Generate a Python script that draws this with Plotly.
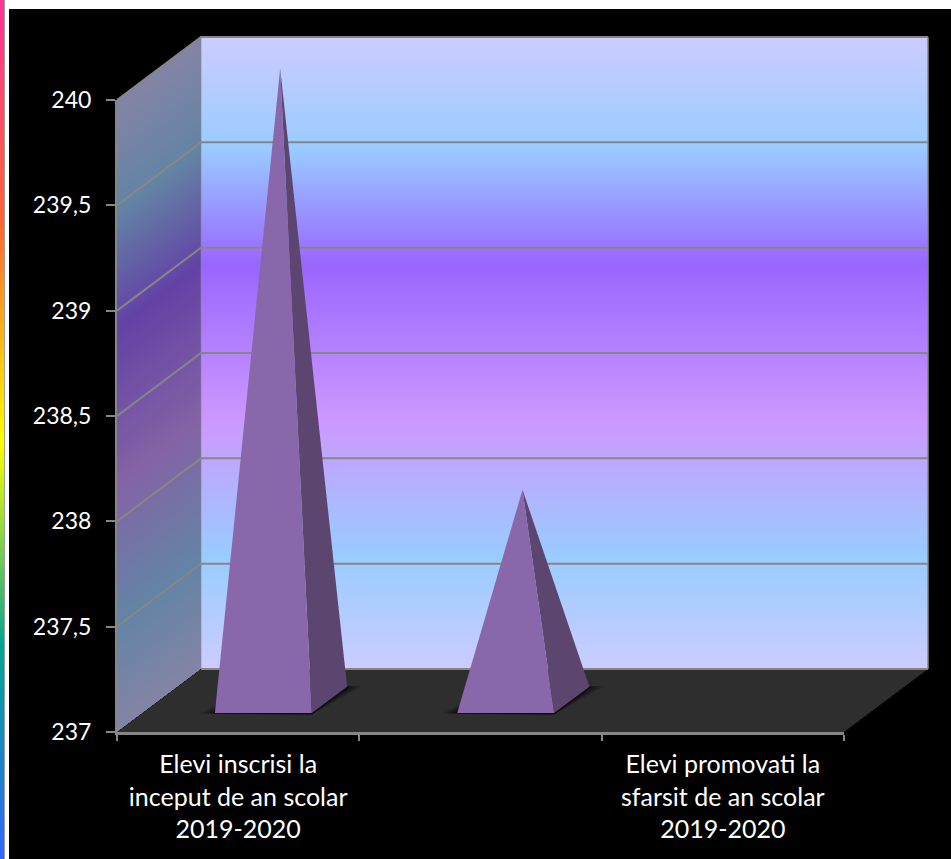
import plotly.graph_objects as go

# ---- chart data ----
categories = ["Elevi inscrisi la<br>inceput de an scolar<br>2019-2020", " ",
              "Elevi promovati la<br>sfarsit de an scolar<br>2019-2020"]
values = [240, 238, None]
y_ticks = [237, 237.5, 238, 238.5, 239, 239.5, 240]

# ---- page geometry (pixels) ----
W, H = 951, 859
X0, X1 = 117, 844        # front floor edge
Y237, Y240 = 732, 100    # front value scale
DX, DY = 84, 63          # depth shift of the back wall
k = (X1 - X0) / 3
v = (Y237 - Y240) / 3

def fx(p):
    return -0.5 + (p - X0) / k

def fy(p):
    return 237 + (Y237 - p) / v

def proj(i, val, depth, off=0.0):
    return i + off + depth * DX / k, val + depth * DY / v

wall_stops = [(0, (204, 204, 255)), (.175, (153, 204, 255)), (.36, (153, 102, 255)),
              (.61, (204, 153, 255)), (.825, (153, 204, 255)), (1, (204, 204, 255))]
rainbow_stops = [(0, "#FF3399"), (.26, "#FF6633"), (.515, "#FFFF00"), (.75, "#01A78F"), (1, "#3366FF")]

def scale(f=1.0):
    return [[s, "rgb(%d,%d,%d)" % tuple(int(c * f) for c in col)] for s, col in wall_stops]

GRID = "#868686"
fig = go.Figure()

# side rainbow strip
n = 430
fig.add_trace(go.Heatmap(x=[fx(0), fx(4)], y=[fy(H * j / n) for j in range(n + 1)],
                         z=[[(j + .5) / n] for j in range(n)], zmin=0, zmax=1,
                         colorscale=[[s, c] for s, c in rainbow_stops], showscale=False,
                         hoverinfo="skip"))

# back wall
ytop, ybot = Y240 - DY, Y237 - DY
n = ybot - ytop
fig.add_trace(go.Heatmap(x=[fx(X0 + DX), fx(X1 + DX)], y=[fy(ytop + j) for j in range(n + 1)],
                         z=[[(j + .5) / n] for j in range(n)], zmin=0, zmax=1,
                         colorscale=scale(), showscale=False, hoverinfo="skip"))

# left wall
xs = list(range(X0, X0 + DX + 1))
ys = list(range(ytop, Y237 + 1))
z = []
for py in ys[:-1]:
    row = []
    for px in xs[:-1]:
        t = (px + .5 - X0) / DX
        f = (py + .5 - (Y240 - DY * t)) / (Y237 - Y240)
        row.append(f if 0 <= f <= 1 else None)
    z.append(row)
fig.add_trace(go.Heatmap(x=[fx(p) for p in xs], y=[fy(p) for p in ys], z=z, zmin=0, zmax=1,
                         colorscale=scale(.65), showscale=False, hoverinfo="skip", hoverongaps=False))

def poly(pts, color):
    fig.add_trace(go.Scatter(x=[p[0] for p in pts] + [pts[0][0]], y=[p[1] for p in pts] + [pts[0][1]],
                             mode="lines", line=dict(width=0, color=color), fill="toself",
                             fillcolor=color, hoverinfo="skip", showlegend=False))

def line(pts, width, color=GRID):
    fig.add_trace(go.Scatter(x=[p[0] for p in pts], y=[p[1] for p in pts], mode="lines",
                             line=dict(width=width, color=color), hoverinfo="skip", showlegend=False))

# floor
poly([proj(-0.5, 237, 0), proj(2.5, 237, 0), proj(2.5, 237, 1), proj(-0.5, 237, 1)], "#2e2e2e")

# grid on walls
for t in y_ticks[1:]:
    line([proj(-0.5, t, 0), proj(-0.5, t, 1), proj(2.5, t, 1)], 2)
line([proj(-0.5, 237, 1), proj(2.5, 237, 1)], 2)
line([proj(-0.5, 240, 1), proj(-0.5, 237, 1)], 1, "rgba(134,134,134,0.6)")
line([proj(2.5, 240, 1), proj(2.5, 237, 1)], 1.5)

# pyramids
HALF = 0.2
D0, D1 = 0.30, 0.72
FRONT, SIDE = "#8868AA", "#5C4670"
for i, val in enumerate(values):
    if val is None:
        continue
    fl = proj(i, 237, D0, -HALF)
    fr = proj(i, 237, D0, HALF)
    br = proj(i, 237, D1, HALF)
    bl = proj(i, 237, D1, -HALF)
    apex = proj(i, val, 0.5)
    # soft contact shadow on the floor
    for g, a in ((15, .14), (11, .18), (7, .22), (4, .26), (2, .3)):
        ox = g / k
        poly([(fl[0] - ox, fl[1] - 0.4 / v), (fr[0], fr[1] - 1.5 / v),
              (br[0] + ox, br[1] + 0.5 / v), (bl[0], bl[1])], "rgba(0,0,0,%g)" % a)
    poly([fr, br, apex], SIDE)
    poly([fl, fr, apex], FRONT)

# real axes, on their own subplot scaled the same way as the drawing above
fig.add_trace(go.Scatter(x=categories, y=[val if val is not None else 237 for val in values],
                         xaxis="x2", yaxis="y2", mode="markers", marker=dict(opacity=0),
                         hoverinfo="skip", showlegend=False))

font = dict(family="Lato", color="white")
fig.update_layout(
    width=W, height=H, margin=dict(l=0, r=0, t=0, b=0, pad=0, autoexpand=False), autosize=False,
    paper_bgcolor="black", plot_bgcolor="rgba(0,0,0,0)", showlegend=False, separators=", ",
    xaxis=dict(visible=False, range=[fx(0), fx(W)], domain=[0, 1], fixedrange=True),
    yaxis=dict(visible=False, range=[fy(H), fy(0)], domain=[0, 1], fixedrange=True),
    xaxis2=dict(domain=[X0 / W, X1 / W], anchor="y2", type="category", categoryorder="array",
                categoryarray=categories, range=[-0.5, 2.5], tickson="boundaries", ticks="outside",
                ticklen=6, tickwidth=2, tickcolor=GRID, showline=True, linecolor=GRID, linewidth=3,
                showgrid=False, zeroline=False, tickangle=0, fixedrange=True, ticklabelstandoff=8,
                tickfont=dict(size=25, **font)),
    yaxis2=dict(domain=[(H - Y237) / H, (H - Y240) / H], anchor="x2", range=[237, 240],
                tickvals=y_ticks, ticks="outside", ticklen=9, tickwidth=2, tickcolor=GRID,
                showline=True, linecolor=GRID, linewidth=2, showgrid=False, zeroline=False,
                ticklabelstandoff=10, fixedrange=True, tickfont=dict(size=23, **font)),
    shapes=[
        dict(type="rect", xref="paper", yref="paper", x0=4 / W, x1=5 / W, y0=0, y1=1,
             fillcolor="#a0a0a0", line_width=0, layer="above"),
        dict(type="rect", xref="paper", yref="paper", x0=5 / W, x1=9 / W, y0=0, y1=1,
             fillcolor="white", line_width=0, layer="above"),
        dict(type="rect", xref="paper", yref="paper", x0=5 / W, x1=1, y0=1 - 9 / H, y1=1,
             fillcolor="white", line_width=0, layer="above"),
    ],
)

fig.write_html("out.html", config=dict(displayModeBar=False),
               post_script="document.body.style.margin='0';document.body.style.overflow='hidden';")
